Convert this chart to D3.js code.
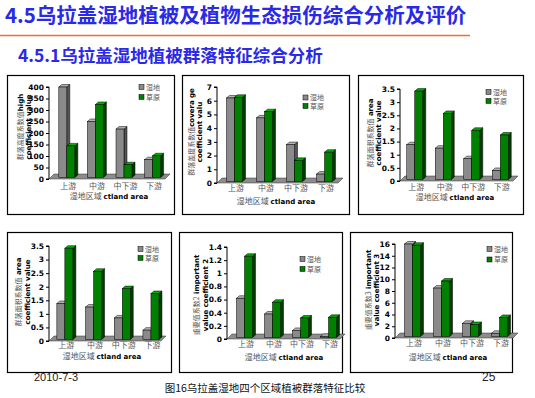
<!DOCTYPE html>
<html><head><meta charset="utf-8">
<script src="https://cdn.jsdelivr.net/npm/d3@7/dist/d3.min.js"></script>
<style>body{margin:0;background:#fff;}svg{display:block;}</style>
</head><body>
<script>
const categories = ["上游", "中游", "中下游", "下游"];
const seriesNames = ["湿地", "草原"];
const heightWet = [400, 250, 217, 84];
const heightGrass = [144, 324, 62, 101];
const coverWet = [6.2, 4.75, 2.8, 0.65];
const coverGrass = [6.25, 5.2, 1.65, 2.25];
const areaWet = [1.38, 1.25, 0.85, 0.4];
const areaGrass = [3.42, 2.57, 1.93, 1.75];
const imp2Wet = [0.62, 0.38, 0.13, 0.04];
const imp2Grass = [1.26, 0.56, 0.32, 0.33];
const imp3Wet = [16, 8.5, 2.5, 0.8];
const imp3Grass = [15.8, 9.7, 2.3, 3.5];
const ticks1 = [0, 50, 100, 150, 200, 250, 300, 350, 400];
const ticks2 = [0, 1, 2, 3, 4, 5, 6, 7];
const ticks3 = [0, 0.5, 1, 1.5, 2, 2.5, 3, 3.5];
const ticks5 = [0, 0.2, 0.4, 0.6, 0.8, 1, 1.2, 1.4];
const ticks6 = [0, 2, 4, 6, 8, 10, 12, 14, 16];
const yLabels = [
  ["群落高度系数值", "high", "coefficient value"],
  ["群落盖度系数值", "covera ge", "coefficient valu"],
  ["群落面积系数值", " area", "coefficient value"],
  ["群落面积系数值", " area", "coefficient value"],
  ["重要值系数2", "  important", "value coefficient 2"],
  ["重要值系数3", "  important", "value coefficient 3"]
];
const xTitleCn = "湿地区域";
const xTitleEn = "ctland area";

const W = 535, H = 398;
const svg = d3.select("body").append("svg").attr("width", W).attr("height", H);

// header
svg.append("text").attr("x", 5).attr("y", 23)
  .attr("font-family", "'Noto Sans CJK SC', sans-serif").attr("font-weight", "bold")
  .attr("font-size", 20.5).attr("fill", "#2a2ae6")
  .text("4.5乌拉盖湿地植被及植物生态损伤综合分析及评价");
svg.append("line").attr("x1", 0).attr("x2", 470).attr("y1", 35.5).attr("y2", 35.5)
  .attr("stroke", "#f07020").attr("stroke-width", 1.5);
svg.append("text").attr("x", 18).attr("y", 61.5)
  .attr("font-family", "'Noto Sans CJK SC', sans-serif").attr("font-weight", "bold")
  .attr("font-size", 17.5).attr("fill", "#2a2ae6")
  .text("4.5.1乌拉盖湿地植被群落特征综合分析");

const charts = [
  {wet: heightWet, grass: heightGrass, ticks: ticks1, max: 400, frame: [7.5, 75.5, 167, 139], axisX: 49, yTop: 87, yBot: 179, bandStart: 53, step: 28.6, floorEnd: 170, legend: [139, 87, 97], ylab: [23, 31, 127], catY: 189, titleY: 199, titleCx: 109},
  {wet: coverWet, grass: coverGrass, ticks: ticks2, max: 7, frame: [182.5, 75.5, 167, 139], axisX: 217, yTop: 87, yBot: 183, bandStart: 220, step: 30, floorEnd: 343, legend: [303, 97.5, 106], ylab: [194, 202, 132], catY: 191, titleY: 204, titleCx: 276},
  {wet: areaWet, grass: areaGrass, ticks: ticks3, max: 3.5, frame: [358.5, 75.5, 165, 139], axisX: 400, yTop: 89, yBot: 181, bandStart: 401, step: 28.5, floorEnd: 518, legend: [486, 92, 101], ylab: [373, 381, 133], catY: 190, titleY: 200, titleCx: 455},
  {wet: areaWet, grass: areaGrass, ticks: ticks3, max: 3.5, frame: [7.5, 232.5, 164, 140], axisX: 49, yTop: 246, yBot: 341, bandStart: 51, step: 28.7, floorEnd: 166, legend: [138, 249, 258], ylab: [21, 30, 292], catY: 348, titleY: 359, titleCx: 102},
  {wet: imp2Wet, grass: imp2Grass, ticks: ticks5, max: 1.4, frame: [179.5, 232.5, 163, 140], axisX: 227, yTop: 247, yBot: 339, bandStart: 231, step: 28, floorEnd: 345, legend: [300, 259, 269], ylab: [199, 208, 295], catY: 347, titleY: 360, titleCx: 284},
  {wet: imp3Wet, grass: imp3Grass, ticks: ticks6, max: 16, frame: [350.5, 232.5, 162, 140], axisX: 395, yTop: 244, yBot: 338, bandStart: 398.5, step: 29, floorEnd: 518, legend: [487, 249, 259.5], ylab: [371, 379, 290], catY: 346, titleY: 360, titleCx: 448}
];

const colors = {
  wet: {front: "#8a8a8a", top: "#b4b4b4", side: "#555555"},
  grass: {front: "#008000", top: "#00b000", side: "#003c00"}
};
const DX = 3, DY = 2.5;
const cnFont = "'Noto Sans CJK SC', sans-serif";
const enFont = "'DejaVu Sans', sans-serif";

function bar3d(g, x0, w, yt, yb, c) {
  g.append("polygon")
    .attr("points", [[x0 + w, yt], [x0 + w + DX, yt - DY], [x0 + w + DX, yb - DY], [x0 + w, yb]].join(" "))
    .attr("fill", c.side).attr("stroke", "#000").attr("stroke-width", 0.5);
  g.append("polygon")
    .attr("points", [[x0, yt], [x0 + DX, yt - DY], [x0 + w + DX, yt - DY], [x0 + w, yt]].join(" "))
    .attr("fill", c.top).attr("stroke", "#000").attr("stroke-width", 0.5);
  g.append("rect").attr("x", x0).attr("y", yt).attr("width", w).attr("height", Math.max(0, yb - yt))
    .attr("fill", c.front).attr("stroke", "#000").attr("stroke-width", 0.5);
}

charts.forEach((ch, i) => {
  const g = svg.append("g");
  g.append("rect").attr("x", ch.frame[0]).attr("y", ch.frame[1])
    .attr("width", ch.frame[2]).attr("height", ch.frame[3])
    .attr("fill", "#fff").attr("stroke", "#000").attr("stroke-width", 1.2);

  const y = d3.scaleLinear().domain([0, ch.max]).range([ch.yBot, ch.yTop]);
  const x = d3.scaleBand().domain(categories).range([ch.bandStart, ch.bandStart + 4 * ch.step]);

  // floor
  const y0 = ch.yBot;
  g.append("polygon")
    .attr("points", [[ch.axisX, y0], [ch.floorEnd - 5, y0], [ch.floorEnd, y0 - 5], [ch.axisX + 5, y0 - 5]].join(" "))
    .attr("fill", "#8c8c8c").attr("stroke", "#333").attr("stroke-width", 0.5);

  // axis
  const axis = d3.axisLeft(y).tickValues(ch.ticks).tickSize(3).tickPadding(2)
    .tickFormat(d => String(d));
  const ag = g.append("g").attr("transform", `translate(${ch.axisX},0)`).call(axis);
  ag.select(".domain").attr("stroke", "#000").attr("d", `M-3,${ch.yTop}H0V${ch.yBot}H-3`);
  ag.selectAll(".tick line").attr("stroke", "#000");
  ag.selectAll(".tick text").attr("font-family", enFont).attr("font-weight", "bold")
    .attr("font-size", 7.5).attr("fill", "#000");

  // bars
  categories.forEach((cat, k) => {
    const c = x(cat) + x.bandwidth() / 2;
    const yb = y0 - 1.5;
    bar3d(g, c - 8.5, 8, y(ch.wet[k]), yb, colors.wet);
    bar3d(g, c - 0.5, 8, y(ch.grass[k]), yb, colors.grass);
    g.append("text").attr("x", c + 1).attr("y", ch.catY).attr("text-anchor", "middle")
      .attr("font-family", cnFont).attr("font-size", 8).attr("fill", "#555").text(cat);
  });

  // legend
  [["wet", ch.legend[1]], ["grass", ch.legend[2]]].forEach(([k, ly], j) => {
    g.append("rect").attr("x", ch.legend[0]).attr("y", ly - 2.5).attr("width", 5).attr("height", 5)
      .attr("fill", colors[k].front).attr("stroke", "#000").attr("stroke-width", 0.5);
    g.append("text").attr("x", ch.legend[0] + 7).attr("y", ly + 2.6)
      .attr("font-family", cnFont).attr("font-size", 7).attr("fill", "#555").text(seriesNames[j]);
  });

  // x title
  const xt = g.append("text").attr("x", ch.titleCx).attr("y", ch.titleY).attr("text-anchor", "middle")
    .attr("font-size", 8);
  xt.append("tspan").attr("font-family", cnFont).attr("fill", "#555").text(xTitleCn + "  ");
  xt.append("tspan").attr("font-family", enFont).attr("font-weight", "bold").attr("font-size", 7)
    .attr("fill", "#000").text(xTitleEn);

  // y title
  const lab = yLabels[i];
  const t1 = g.append("text").attr("transform", `translate(${ch.ylab[0]},${ch.ylab[2]}) rotate(-90)`)
    .attr("text-anchor", "middle").attr("font-size", 7);
  t1.append("tspan").attr("font-family", cnFont).attr("fill", "#555").text(lab[0]);
  t1.append("tspan").attr("font-family", enFont).attr("font-weight", "bold").attr("fill", "#000").text(lab[1]);
  g.append("text").attr("transform", `translate(${ch.ylab[1]},${ch.ylab[2]}) rotate(-90)`)
    .attr("text-anchor", "middle").attr("font-size", 7)
    .attr("font-family", enFont).attr("font-weight", "bold").attr("fill", "#000").text(lab[2]);
});

// footer
svg.append("text").attr("x", 34).attr("y", 381).attr("font-family", "'Liberation Sans', sans-serif")
  .attr("font-size", 11).attr("fill", "#222").text("2010-7-3");
svg.append("text").attr("x", 482).attr("y", 381).attr("font-family", "'Liberation Sans', sans-serif")
  .attr("font-size", 12).attr("fill", "#222").text("25");
svg.append("text").attr("x", 265).attr("y", 392).attr("text-anchor", "middle")
  .attr("font-family", cnFont).attr("font-size", 10.5).attr("fill", "#111")
  .text("图16乌拉盖湿地四个区域植被群落特征比较");
</script>
</body></html>
